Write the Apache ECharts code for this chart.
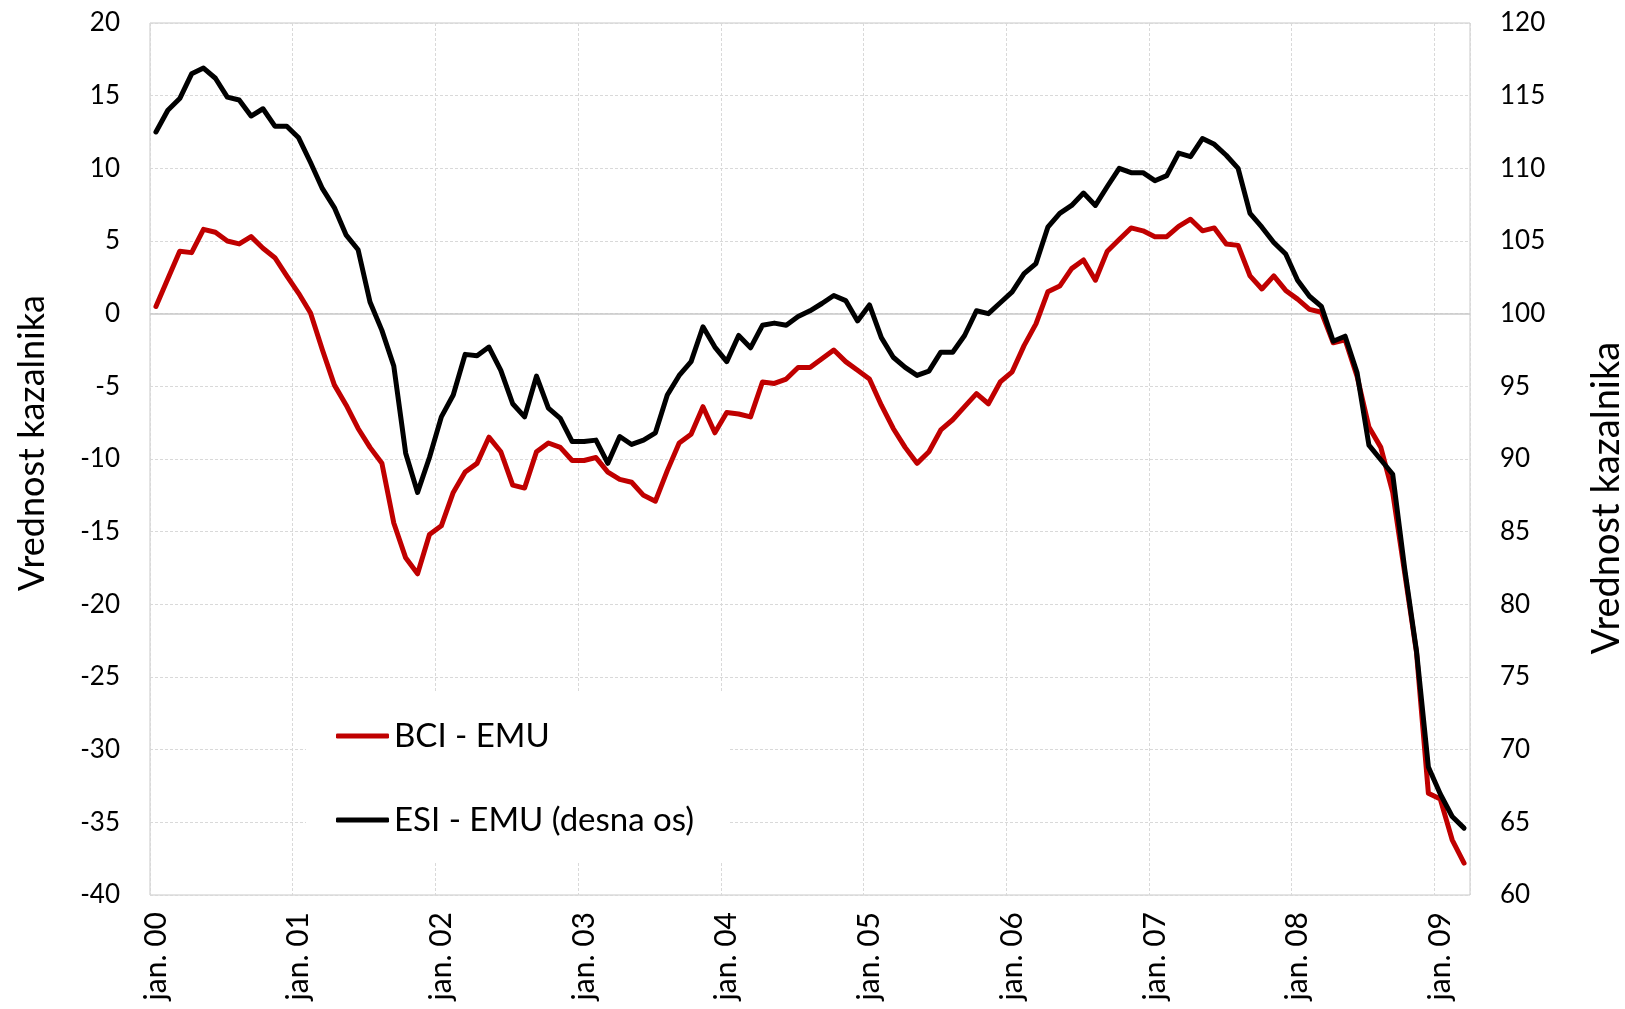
<!DOCTYPE html>
<html>
<head>
<meta charset="utf-8">
<script src="https://cdn.jsdelivr.net/npm/echarts@6/dist/echarts.min.js"></script>
<style>
    html, body { margin: 0; padding: 0; background: #fff; }
    #chart { width: 1625px; height: 1009px; }
</style>
</head>
<body>
<div id="chart"></div>
<script>
// monthly, jan. 2000 - mar. 2009
const years = ['00', '01', '02', '03', '04', '05', '06', '07', '08', '09'];
const months = [];
years.forEach(function (y) {
    for (let m = 1; m <= 12; m++) {
        if (y === '09' && m > 3) break;
        months.push(m === 1 ? 'jan. ' + y : m + '.' + y);
    }
});

// BCI - EMU (left axis)
const bci = [
    0.5, 2.4, 4.3, 4.2, 5.8, 5.6, 5.0, 4.8, 5.3, 4.5, 3.85, 2.6,
    1.4, 0.05, -2.5, -4.9, -6.3, -7.9, -9.2, -10.3, -14.4, -16.8, -17.9, -15.2,
    -14.6, -12.3, -10.9, -10.3, -8.5, -9.5, -11.8, -12.0, -9.5, -8.9, -9.2, -10.1,
    -10.1, -9.9, -10.9, -11.4, -11.6, -12.5, -12.9, -10.8, -8.9, -8.3, -6.4, -8.2,
    -6.8, -6.9, -7.1, -4.7, -4.8, -4.5, -3.7, -3.7, -3.1, -2.5, -3.3, -3.9,
    -4.5, -6.3, -7.9, -9.2, -10.3, -9.5, -8.0, -7.3, -6.4, -5.5, -6.2, -4.7,
    -4.0, -2.2, -0.7, 1.5, 1.9, 3.1, 3.7, 2.3, 4.3, 5.1, 5.9, 5.7,
    5.3, 5.3, 6.0, 6.5, 5.7, 5.9, 4.8, 4.7, 2.6, 1.7, 2.6, 1.6,
    1.0, 0.3, 0.1, -2.0, -1.8, -4.3, -7.8, -9.2, -12.3, -17.8, -23.3, -33.0,
    -33.4, -36.2, -37.8
];

// ESI - EMU (right axis)
const esi = [
    112.5, 114.0, 114.8, 116.5, 116.9, 116.2, 114.9, 114.7, 113.6, 114.1, 112.9, 112.9,
    112.1, 110.4, 108.6, 107.3, 105.4, 104.4, 100.8, 98.85, 96.4, 90.4, 87.7, 90.1,
    92.9, 94.4, 97.2, 97.1, 97.7, 96.1, 93.8, 92.9, 95.7, 93.5, 92.8, 91.2,
    91.2, 91.3, 89.7, 91.55, 91.0, 91.3, 91.8, 94.4, 95.75, 96.7, 99.1, 97.7,
    96.7, 98.5, 97.65, 99.2, 99.35, 99.2, 99.8, 100.2, 100.7, 101.25, 100.9, 99.5,
    100.6, 98.35, 97.0, 96.3, 95.75, 96.05, 97.35, 97.35, 98.5, 100.2, 100.0, 100.75,
    101.5, 102.75, 103.45, 105.95, 106.9, 107.45, 108.3, 107.45, 108.75, 110.0, 109.7, 109.7,
    109.15, 109.5, 111.05, 110.8, 112.05, 111.65, 110.9, 110.0, 106.9, 105.95, 104.9, 104.1,
    102.3, 101.2, 100.5, 98.1, 98.45, 95.95, 90.95, 89.95, 88.95, 82.5, 76.8, 68.8,
    66.95, 65.4, 64.6
];

const FONT = 'Lato, "Open Sans", sans-serif';
const gridLine = { show: true, lineStyle: { color: '#d9d9d9', type: [3, 2], width: 1 } };

const chart = echarts.init(document.getElementById('chart'));
chart.setOption({
    animation: false,
    backgroundColor: '#fff',
    textStyle: { fontFamily: FONT },
    grid: {
        left: 150, right: 155, top: 23, bottom: 114,
        containLabel: false,
        outerBoundsMode: 'none',
        show: true, borderColor: '#c8c8c8', borderWidth: 1
    },
    legend: {
        orient: 'vertical',
        left: 306, top: 693,
        padding: [23, 34, 23, 30],
        backgroundColor: '#fff',
        icon: 'roundRect',
        itemWidth: 53, itemHeight: 5,
        itemGap: 44,
        textStyle: { fontSize: 33, color: '#000', lineHeight: 40, fontFamily: FONT },
        data: ['BCI - EMU', 'ESI - EMU (desna os)']
    },
    xAxis: {
        type: 'category',
        data: months,
        boundaryGap: true,
        axisLine: { show: false },
        axisTick: { show: false },
        axisLabel: {
            interval: 11, rotate: 90, margin: 17,
            fontSize: 30, color: '#000', fontFamily: FONT
        },
        splitLine: gridLine
    },
    yAxis: [
        {
            type: 'value', min: -40, max: 20, interval: 5,
            name: 'Vrednost kazalnika',
            nameLocation: 'middle', nameRotate: 90, nameGap: 100,
            nameTextStyle: { fontSize: 36, color: '#000', fontFamily: FONT, padding: [0, 0, 0, 32] },
            axisLine: { show: false }, axisTick: { show: false },
            axisLabel: { margin: 30, fontSize: 26, color: '#000', fontFamily: FONT },
            splitLine: gridLine
        },
        {
            type: 'value', min: 60, max: 120, interval: 5,
            position: 'right',
            name: 'Vrednost kazalnika',
            nameLocation: 'middle', nameRotate: 90, nameGap: 118,
            nameTextStyle: { fontSize: 38, color: '#000', fontFamily: FONT, padding: [0, 78, 0, 0] },
            axisLine: { show: false }, axisTick: { show: false },
            axisLabel: { margin: 30, fontSize: 26, color: '#000', fontFamily: FONT },
            splitLine: { show: false }
        }
    ],
    series: [
        {
            name: 'BCI - EMU',
            type: 'line',
            yAxisIndex: 0,
            data: bci,
            symbol: 'none',
            z: 2,
            color: '#c00000',
            lineStyle: { width: 5, color: '#c00000', cap: 'round', join: 'round' },
            markLine: {
                silent: true, symbol: 'none', label: { show: false },
                lineStyle: { color: '#c8c8c8', type: 'solid', width: 1.5 },
                data: [{ yAxis: 0 }],
                z: 1
            }
        },
        {
            name: 'ESI - EMU (desna os)',
            type: 'line',
            yAxisIndex: 1,
            data: esi,
            symbol: 'none',
            z: 3,
            color: '#000',
            lineStyle: { width: 5, color: '#000', cap: 'round', join: 'round' }
        }
    ]
});
</script>
</body>
</html>
